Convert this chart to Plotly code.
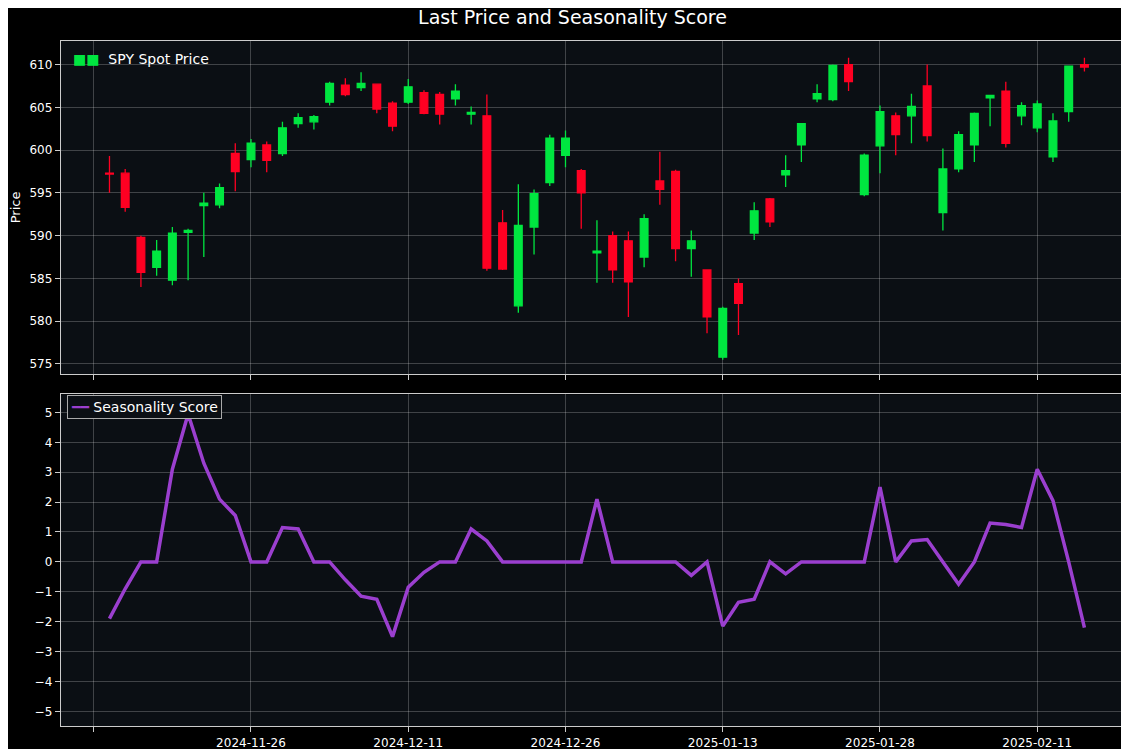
import plotly.graph_objects as go
from plotly.subplots import make_subplots

idx = list(range(1, 64))
opens = [597.3,597.3,589.8,586.3,584.8,590.4,593.5,593.6,599.6,598.9,600.6,599.6,603.1,603.3,605.6,607.6,607.3,607.7,605.5,605.6,
         606.7,606.5,606.0,604.2,604.0,591.5,581.8,591.0,596.2,599.4,597.6,588.0,590.0,589.4,587.5,596.4,597.5,588.5,586.0,575.8,
         584.4,590.3,594.3,597.1,600.6,606.0,605.9,610.0,594.8,600.5,604.0,604.0,607.5,592.7,597.8,600.6,606.1,606.9,604.0,602.6,
         599.2,604.5,610.0]
closes = [597.2,593.3,585.7,588.2,590.3,590.6,593.8,595.6,597.5,600.8,598.8,602.6,603.8,603.9,607.8,606.5,607.8,604.8,602.8,607.4,
          604.3,604.2,606.9,604.4,586.2,586.1,591.2,594.9,601.4,601.4,595.0,588.2,586.0,584.6,592.0,595.4,588.5,589.4,580.5,581.5,
          582.1,592.9,591.6,597.6,603.1,606.6,609.9,608.0,599.4,604.5,601.8,605.1,601.7,597.8,601.8,604.3,606.4,600.8,605.2,605.4,
          603.4,609.8,609.7]
highs = [599.3,597.8,590.0,589.5,591.0,590.8,595.0,596.1,600.8,601.3,601.0,603.3,604.3,604.1,608.0,608.4,609.1,607.7,605.7,608.3,
         607.0,606.8,607.7,605.1,606.5,593.0,596.0,595.4,601.8,602.3,597.8,591.8,590.5,590.5,592.5,599.8,597.7,590.6,586.0,581.7,
         585.0,593.9,594.4,599.4,603.1,607.7,610.0,610.8,599.6,605.2,604.4,606.6,610.0,600.2,602.2,604.4,606.4,608.0,605.6,605.8,
         604.3,609.9,610.8]
lows = [595.0,592.8,584.0,585.3,584.2,584.8,587.5,593.2,595.2,598.0,597.4,599.3,602.6,602.4,605.2,606.3,606.9,604.3,602.2,605.4,
        604.2,603.0,605.2,603.0,585.9,586.0,581.0,587.8,595.8,598.0,590.8,584.5,584.5,580.5,586.3,593.6,587.0,585.2,578.6,575.5,
        578.4,589.5,591.0,595.7,598.6,605.6,605.7,606.9,594.6,597.3,599.4,600.8,601.0,590.6,597.4,598.6,602.8,600.3,602.9,602.1,
        598.6,603.3,609.2]
score = [-1.9,-0.9,0,0,3.1,4.95,3.3,2.1,1.55,0,0,1.15,1.1,0,0,-0.6,-1.15,-1.25,-2.5,-0.85,
         -0.35,0,0,1.1,0.7,0,0,0,0,0,0,2.1,0,0,0,0,0,-0.45,0,-2.15,
         -1.35,-1.25,0,-0.4,0,0,0,0,0,2.5,0,0.7,0.75,0,-0.75,0,1.3,1.25,1.15,3.1,
         2.05,0,-2.2]
tick_vals = [0, 10, 20, 30, 40, 50, 60]
tick_text = ["", "2024-11-26", "2024-12-11", "2024-12-26", "2025-01-13", "2025-01-28", "2025-02-11"]

fig = make_subplots(rows=2, cols=1, shared_xaxes=False)
fig.add_trace(go.Candlestick(x=idx, open=opens, high=highs, low=lows, close=closes,
                             name="SPY Spot Price", whiskerwidth=0,
                             increasing=dict(line=dict(color="#00e640", width=1.3), fillcolor="#00e640"),
                             decreasing=dict(line=dict(color="#ff0022", width=1.3), fillcolor="#ff0022")),
              row=1, col=1)
fig.add_trace(go.Scatter(x=idx, y=score, mode="lines", name="Seasonality Score",
                         line=dict(color="#9b3fcf", width=3.5)), row=2, col=1)

grid = "rgba(255,255,255,0.22)"
common = dict(showgrid=True, gridcolor=grid, gridwidth=1, zeroline=False, showline=True, linecolor="#cccccc",
              mirror=True, ticks="outside", tickcolor="#cccccc", ticklen=5,
              tickfont=dict(color="white", size=12, family="DejaVu Sans"))
fig.update_layout(
    width=1129, height=749, paper_bgcolor="#000000", plot_bgcolor="#0b0f14",
    margin=dict(l=0, r=0, t=0, b=0),
    title=dict(text="Last Price and Seasonality Score", x=0.5, y=0.9875, xanchor="center", yanchor="middle",
               font=dict(color="white", size=19, family="DejaVu Sans")),
    showlegend=False,
    font=dict(family="DejaVu Sans", color="white"),
)
fig.update_xaxes(common)
fig.update_yaxes(common)
fig.update_layout(
    xaxis=dict(domain=[0.0467, 0.998], range=[-2.1, 66.2], tickvals=tick_vals, ticktext=[""] * 7,
               rangeslider=dict(visible=False)),
    xaxis2=dict(domain=[0.0467, 0.998], range=[-2.1, 66.2], tickvals=tick_vals, ticktext=tick_text),
    yaxis=dict(domain=[0.511, 0.9565], range=[573.8, 612.8], dtick=5,
               title=dict(text="Price", font=dict(color="white", size=13), standoff=6)),
    yaxis2=dict(domain=[0.041, 0.484], range=[-5.5, 5.6], dtick=1),
)
fig.add_annotation(xref="paper", yref="paper", x=0.056, y=0.932, xanchor="left", yanchor="middle",
                   text="<span style='color:#00e640'>■■</span>  SPY Spot Price", showarrow=False,
                   font=dict(size=14, color="white"))
fig.add_annotation(xref="paper", yref="paper", x=0.052, y=0.467, xanchor="left", yanchor="middle",
                   text="<span style='color:#9b3fcf'><b>━━</b></span> Seasonality Score", showarrow=False,
                   font=dict(size=14, color="white"), bordercolor="#aaaaaa", borderwidth=1, borderpad=3,
                   bgcolor="#0b0f14")
fig.write_html("out.html")
